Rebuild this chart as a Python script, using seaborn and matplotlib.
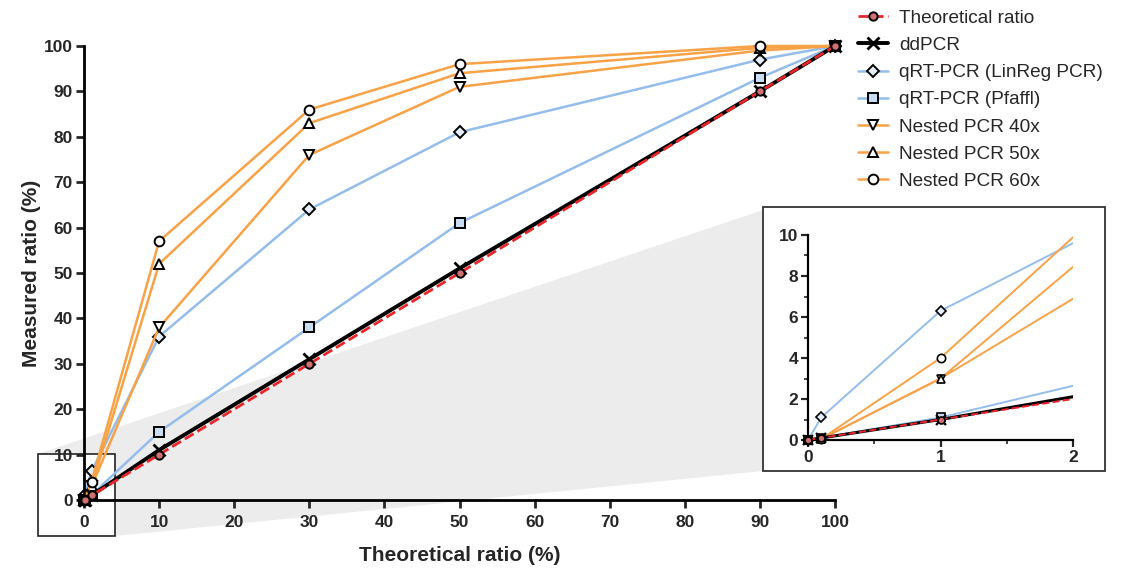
import matplotlib
matplotlib.use("Agg")
import matplotlib.pyplot as plt
from matplotlib.patches import Polygon, Rectangle
import seaborn as sns
import pandas as pd

sns.set_style("white")
plt.rcParams['font.family'] = ['Liberation Sans', 'DejaVu Sans']

theoretical_x = [0, 0.1, 1, 10, 30, 50, 90, 100]
theoretical = [0, 0.1, 1, 10, 30, 50, 90, 100]
ddpcr = [0, 0.1, 1.0, 11, 31, 51, 90, 100]
linreg = [0, 1.1, 6.3, 36, 64, 81, 97, 100]
pfaffl = [0, 0.1, 1.1, 15, 38, 61, 93, 100]
nested40 = [0, 0.05, 3.0, 38, 76, 91, 99, 100]
nested50 = [0, 0.05, 3.0, 52, 83, 94, 99.6, 100]
nested60 = [0, 0.05, 4.0, 57, 86, 96, 100, 100]

series_names = ["Theoretical ratio", "ddPCR", "qRT-PCR (LinReg PCR)", "qRT-PCR (Pfaffl)",
                "Nested PCR 40x", "Nested PCR 50x", "Nested PCR 60x"]
series_values = [theoretical, ddpcr, linreg, pfaffl, nested40, nested50, nested60]

xticks_main = list(range(0, 101, 10))
yticks_main = list(range(0, 101, 10))
xticks_inset = [0, 1, 2]
yticks_inset = [0, 2, 4, 6, 8, 10]

ORANGE = '#F7A247'
BLUE = '#94BDEB'
RED = '#E8262A'
styles = {
    "Theoretical ratio": dict(color=RED, marker='o', linestyle='--', lw=2.0, mfc='#d07070', ms=6, z=6),
    "ddPCR": dict(color='black', marker='x', linestyle='-', lw=2.8, mfc='black', ms=8, z=5),
    "qRT-PCR (LinReg PCR)": dict(color=BLUE, marker='D', linestyle='-', lw=1.8, mfc='#e4eefa', ms=6.5, z=2),
    "qRT-PCR (Pfaffl)": dict(color=BLUE, marker='s', linestyle='-', lw=1.8, mfc='#c8dcf2', ms=7, z=2),
    "Nested PCR 40x": dict(color=ORANGE, marker='v', linestyle='-', lw=1.8, mfc='white', ms=7, z=3),
    "Nested PCR 50x": dict(color=ORANGE, marker='^', linestyle='-', lw=1.8, mfc='white', ms=7, z=3),
    "Nested PCR 60x": dict(color=ORANGE, marker='o', linestyle='-', lw=1.8, mfc='white', ms=7, z=3),
}

df = pd.DataFrame([(n, x, y) for n, vals in zip(series_names, series_values)
                   for x, y in zip(theoretical_x, vals)], columns=["series", "x", "y"])

W, H = 1123, 571
fig = plt.figure(figsize=(W / 100, H / 100), dpi=100)

def fp(px, py):
    return (px / W, 1 - py / H)

# grey zoom wedge
poly = Polygon([fp(38, 454), fp(763, 210), fp(763, 471), fp(115, 536), fp(38, 536)],
               closed=True, transform=fig.transFigure, facecolor='#ececec', edgecolor='none', zorder=-2)
fig.patches.append(poly)
frame = Rectangle(fp(763, 471), 342 / W, 264 / H, transform=fig.transFigure,
                  facecolor='white', edgecolor='#333333', linewidth=1.3, zorder=-1)
fig.patches.append(frame)

ax = fig.add_axes([84 / W, 1 - 500 / H, (835 - 84) / W, (500 - 46) / H])
ax.set_facecolor('none')

for name in series_names:
    s = styles[name]
    d = df[df.series == name]
    sns.lineplot(data=d, x="x", y="y", ax=ax, color=s['color'], linestyle=s['linestyle'],
                 linewidth=s['lw'], marker=s['marker'], markersize=s['ms'],
                 markerfacecolor=s['mfc'], markeredgecolor='black',
                 markeredgewidth=2.0 if s['marker'] == 'x' else 1.4,
                 label=name, zorder=s['z'], clip_on=False, sort=False, estimator=None)

handles, labels = ax.get_legend_handles_labels()
if ax.legend_ is not None:
    ax.legend_.remove()

ax.set_xlim(0, 100)
ax.set_ylim(0, 100)
ax.set_xticks(xticks_main)
ax.set_yticks(yticks_main)
for sp in ['top', 'right']:
    ax.spines[sp].set_visible(False)
for sp in ['left', 'bottom']:
    ax.spines[sp].set_linewidth(2.0)
    ax.spines[sp].set_color('black')
ax.tick_params(axis='both', direction='out', length=6, width=2.0, labelsize=12.5, pad=2,
               bottom=True, left=True)
ax.tick_params(axis='x', pad=5)
for lab in ax.get_xticklabels() + ax.get_yticklabels():
    lab.set_fontweight('bold')
ax.set_xlabel("Theoretical ratio (%)", fontsize=15, fontweight='bold', labelpad=11)
ax.set_ylabel("Measured ratio (%)", fontsize=15, fontweight='bold', labelpad=2)

box = Rectangle((-6.1, -7.9), 10.2, 18.0, facecolor='white', edgecolor='#222222',
                linewidth=1.2, clip_on=False, zorder=0.5)
ax.add_patch(box)

# inset
ins = fig.add_axes([808 / W, 1 - 440 / H, (1073 - 808) / W, (440 - 235) / H])
ins.set_facecolor('none')
for name in series_names:
    s = styles[name]
    d = df[df.series == name]
    sns.lineplot(data=d, x="x", y="y", ax=ins, color=s['color'], linestyle=s['linestyle'],
                 linewidth=1.4 if s['marker'] != 'x' else 2.2, zorder=s['z'],
                 sort=False, estimator=None, legend=False)
    dd = d[d.x <= 2]
    ins.plot(dd.x, dd.y, linestyle='none', marker=s['marker'], markersize=s['ms'] - 1.0,
             markerfacecolor=s['mfc'], markeredgecolor='black',
             markeredgewidth=1.6 if s['marker'] == 'x' else 1.2, zorder=s['z'] + 1, clip_on=False)
ins.set_xlim(0, 2)
ins.set_ylim(0, 10)
ins.set_xticks(xticks_inset)
ins.set_yticks(yticks_inset)
ins.set_xticks([0.5, 1.5], minor=True)
ins.set_yticks([1, 3, 5, 7, 9], minor=True)
ins.set_xlabel("")
ins.set_ylabel("")
for sp in ['top', 'right']:
    ins.spines[sp].set_visible(False)
for sp in ['left', 'bottom']:
    ins.spines[sp].set_linewidth(1.6)
    ins.spines[sp].set_color('black')
ins.tick_params(axis='both', which='major', direction='out', length=5, width=1.6,
                labelsize=12.5, pad=2, bottom=True, left=True)
ins.tick_params(axis='both', which='minor', direction='out', length=3, width=1.2,
                bottom=True, left=True)
for lab in ins.get_xticklabels() + ins.get_yticklabels():
    lab.set_fontweight('bold')

fig.legend(handles, labels, loc='upper left', bbox_to_anchor=(848 / W, 1.0), frameon=False,
           fontsize=13.7, handlelength=1.6, handletextpad=0.6, labelspacing=0.52, borderaxespad=0.1)

fig.savefig("out.png", dpi=100)
